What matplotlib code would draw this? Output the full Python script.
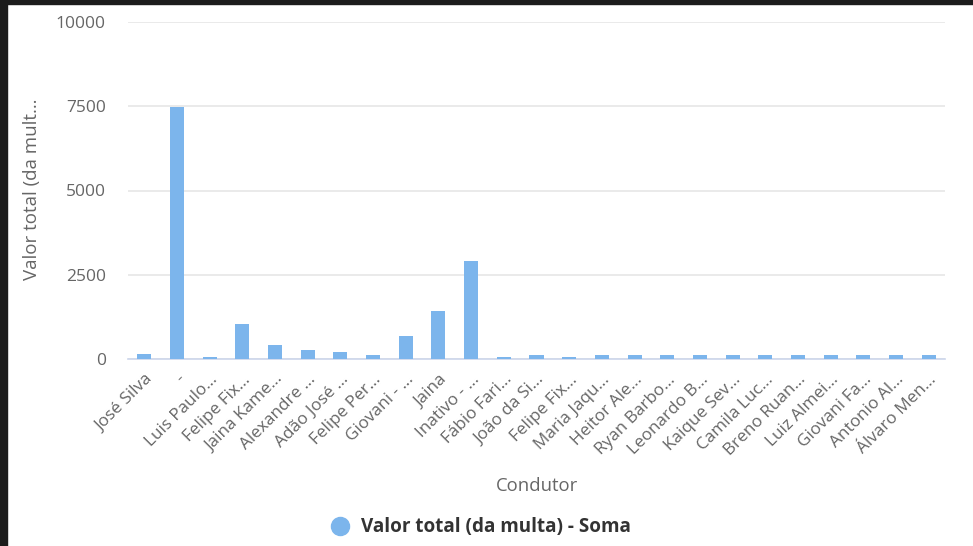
import matplotlib
matplotlib.use("Agg")
import matplotlib.pyplot as plt
from matplotlib.patches import Rectangle
from matplotlib.lines import Line2D

categories = ["José Silva", "-", "Luis Paulo…", "Felipe Fix…", "Jaina Kame…",
              "Alexandre …", "Adão José …", "Felipe Per…", "Giovani - …", "Jaina",
              "Inativo - …", "Fábio Fari…", "João da Si…", "Felipe Fix…", "Maria Jaqu…",
              "Heitor Ale…", "Ryan Barbo…", "Leonardo B…", "Kaique Sev…", "Camila Luc…",
              "Breno Ruan…", "Luiz Almei…", "Giovani Fa…", "Antonio Al…", "Álvaro Men…"]
values = [150, 7490, 60, 1030, 430, 260, 200, 110, 680, 1420,
          2920, 50, 110, 50, 110, 110, 110, 110, 110, 110,
          110, 110, 110, 110, 110]
y_ticks = [0, 2500, 5000, 7500, 10000]
series_name = "Valor total (da multa) - Soma"
x_title = "Condutor"
y_title = "Valor total (da mult…"

plt.rcParams['font.family'] = ['Open Sans', 'DejaVu Sans']

BAR = "#7cb5ec"
TXT = "#666666"

fig = plt.figure(figsize=(9.73, 5.46), dpi=100)
fig.patch.set_facecolor("white")
# dark screenshot frame
fig.patches.append(Rectangle((0, 0), 7/973, 1, transform=fig.transFigure, color="#1c1c1c", zorder=10))
fig.patches.append(Rectangle((0, 1-4/546), 1, 4/546, transform=fig.transFigure, color="#1c1c1c", zorder=10))

ax = fig.add_axes([128/973, 1-359/546, (945-128)/973, (359-22)/546])
x = list(range(len(categories)))
ax.bar(x, values, width=0.43, color=BAR, zorder=3)
ax.set_xlim(-0.5, len(categories)-0.5)
ax.set_ylim(0, 10000)
ax.set_yticks(y_ticks)
ax.set_yticklabels([str(v) for v in y_ticks])
ax.set_xticks(x)
ax.set_xticklabels(categories, rotation=45, ha='right', va='top', rotation_mode='anchor')
for s in ['top', 'right', 'left']:
    ax.spines[s].set_visible(False)
ax.spines['bottom'].set_color("#ccd6eb")
ax.spines['bottom'].set_linewidth(1.2)
ax.tick_params(axis='y', length=0, pad=16, labelsize=12.5, labelcolor=TXT)
ax.tick_params(axis='x', length=0, pad=9, labelsize=12.3, labelcolor=TXT)
ax.grid(axis='y', color="#e6e6e6", linewidth=1.2, zorder=0)
ax.set_axisbelow(True)

fig.text(537/973, 1-486/546, x_title, ha='center', va='center', fontsize=13.3, color=TXT)
fig.text(32/973, 1-189/546, y_title, ha='center', va='center', rotation=90, fontsize=13.5, color=TXT)

# legend
fig.lines.append(Line2D([340/973], [1-526/546], marker='o', markersize=13, color=BAR,
                        linestyle='none', transform=fig.transFigure))
fig.text(361/973, 1-527/546, series_name, ha='left', va='center', fontsize=13.6,
         fontweight='bold', color="#333333")

fig.savefig("out.png", dpi=100, facecolor="white")
